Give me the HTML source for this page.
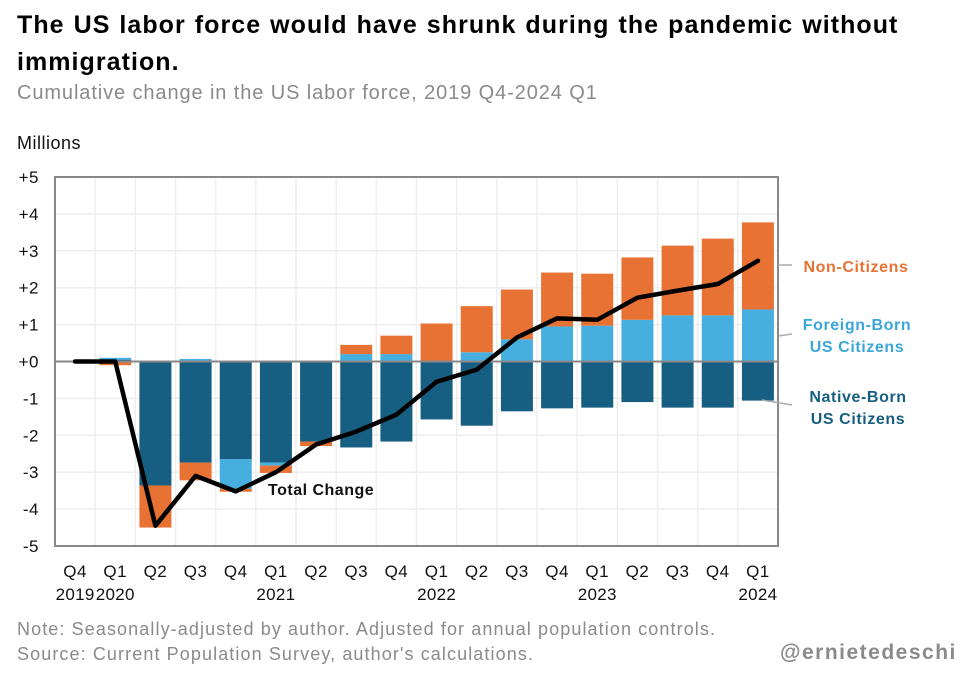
<!DOCTYPE html>
<html><head><meta charset="utf-8"><style>
body{margin:0;background:#fff;font-family:"Liberation Sans",sans-serif;}
#wrap{position:relative;width:976px;height:678px;overflow:hidden;}
.t{position:absolute;white-space:nowrap;}
</style></head><body>
<div id="wrap">
<div class="t" style="left:17px;top:7px;font-size:25px;font-weight:bold;line-height:37px;color:#000;letter-spacing:1.05px;word-spacing:1px;">The US labor force would have shrunk during the pandemic without<br>immigration.</div>
<div class="t" style="left:17px;top:82px;font-size:20px;color:#8a8a8a;letter-spacing:0.9px;">Cumulative change in the US labor force, 2019 Q4-2024 Q1</div>
<div class="t" style="left:17px;top:133px;font-size:18px;color:#111;letter-spacing:0.5px;">Millions</div>
<div class="t" style="left:17px;top:619px;font-size:18px;color:#8a8a8a;letter-spacing:1.1px;">Note: Seasonally-adjusted by author. Adjusted for annual population controls.</div>
<div class="t" style="left:17px;top:644px;font-size:18px;color:#8a8a8a;letter-spacing:1.1px;">Source: Current Population Survey, author's calculations.</div>
<div class="t" style="left:780px;top:641px;font-size:21px;font-weight:bold;color:#8a8a8a;letter-spacing:1.5px;">@ernietedeschi</div>
<svg id="chart" width="976" height="678" style="position:absolute;left:0;top:0"></svg>
</div>
<script>
const quarters=["Q4","Q1","Q2","Q3","Q4","Q1","Q2","Q3","Q4","Q1","Q2","Q3","Q4","Q1","Q2","Q3","Q4","Q1"];
const years=["2019","2020","","","","2021","","","","2022","","","","2023","","","","2024"];
const nativeBorn=[0,0.05,-3.36,-2.74,-2.65,-2.74,-2.17,-2.33,-2.17,-1.57,-1.74,-1.35,-1.27,-1.25,-1.1,-1.25,-1.25,-1.06];
const foreignBorn=[0,0.05,0,0.07,-0.8,-0.08,0,0.2,0.2,0,0.25,0.6,0.95,0.97,1.13,1.25,1.25,1.41];
const nonCitizens=[0,-0.1,-1.14,-0.48,-0.08,-0.2,-0.12,0.25,0.5,1.03,1.25,1.35,1.46,1.41,1.69,1.89,2.08,2.36];
const totalChange=[0,0,-4.45,-3.1,-3.52,-3.0,-2.25,-1.9,-1.44,-0.55,-0.22,0.65,1.17,1.13,1.73,1.92,2.1,2.73];
const yTicks=[5,4,3,2,1,0,-1,-2,-3,-4,-5];
const yTickLabels=["+5","+4","+3","+2","+1","+0","-1","-2","-3","-4","-5"];

const NS="http://www.w3.org/2000/svg";
const svg=document.getElementById('chart');
const L=55,R=778,T=177,B=546;
const slot=(R-L)/quarters.length;
const y=v=>T+(5-v)*(B-T)/10;
const xc=i=>L+slot*(i+0.5);
function mk(tag,attrs){const e=document.createElementNS(NS,tag);for(const k in attrs)e.setAttribute(k,attrs[k]);svg.appendChild(e);return e;}
for(let i=0;i<=quarters.length;i++){const g=mk('line',{x1:L+slot*i,x2:L+slot*i,y1:T,y2:B,stroke:'#eeeeee','stroke-width':1.5});

}
yTicks.forEach((v,i)=>{const g=mk('line',{x1:L,x2:R,y1:y(v),y2:y(v),stroke:'#eeeeee','stroke-width':1.5});


const t=mk('text',{x:39,y:y(v)+6,'text-anchor':'end','font-size':17,fill:'#111','font-family':'Liberation Sans','letter-spacing':0.5});t.textContent=yTickLabels[i];

});
const cols={n:'#175f82',f:'#47afe0',c:'#e87234'};
const bw=32;
quarters.forEach((q,i)=>{let pos=0,neg=0;
[[nativeBorn[i],cols.n,'bar-native-born'],[foreignBorn[i],cols.f,'bar-foreign-born'],[nonCitizens[i],cols.c,'bar-non-citizens']].forEach(([v,c,nm])=>{
if(v===0)return;let y0,y1;
if(v>0){y0=y(pos+v);y1=y(pos);pos+=v;}else{y0=y(neg);y1=y(neg+v);neg+=v;}
const r=mk('rect',{x:xc(i)-bw/2,y:y0,width:bw,height:y1-y0,fill:c});

});
const t=mk('text',{x:xc(i),y:577,'text-anchor':'middle','font-size':17,fill:'#111','font-family':'Liberation Sans','letter-spacing':0.5});t.textContent=q;


if(years[i]){const t2=mk('text',{x:xc(i),y:600,'text-anchor':'middle','font-size':17,fill:'#111','font-family':'Liberation Sans','letter-spacing':0.3});t2.textContent=years[i];

}});
const fr=mk('rect',{x:L,y:T,width:R-L,height:B-T,fill:'none',stroke:'#888','stroke-width':2});


const z=mk('line',{x1:L,x2:R,y1:y(0),y2:y(0),stroke:'#888','stroke-width':2});


const ln=mk('polyline',{points:totalChange.map((v,i)=>xc(i)+','+y(v)).join(' '),fill:'none',stroke:'#000','stroke-width':4.5,'stroke-linejoin':'round','stroke-linecap':'round'});


const tl=mk('text',{x:268,y:495,'font-size':16,'font-weight':'bold',fill:'#111','font-family':'Liberation Sans','letter-spacing':0.5});tl.textContent='Total Change';


function lab(lines,x,ys,c,nm,lx1,ly1,lx2,ly2){
const l=mk('line',{x1:lx1,y1:ly1,x2:lx2,y2:ly2,stroke:'#aaa','stroke-width':1.5});


lines.forEach((s,k)=>{const t=mk('text',{x:x,y:ys+k*22,'text-anchor':'middle','font-size':16,'font-weight':'bold',fill:c,'font-family':'Liberation Sans','letter-spacing':0.6});t.textContent=s;

});}
lab(['Non-Citizens'],856,272,cols.c,'legend-non-citizens',778,265,792,265);
lab(['Foreign-Born','US Citizens'],857,330,'#3aa6d9','legend-foreign-born',778,336,792,334);
lab(['Native-Born','US Citizens'],858,402,cols.n,'legend-native-born',762,400,792,405);
</script>
</body></html>
